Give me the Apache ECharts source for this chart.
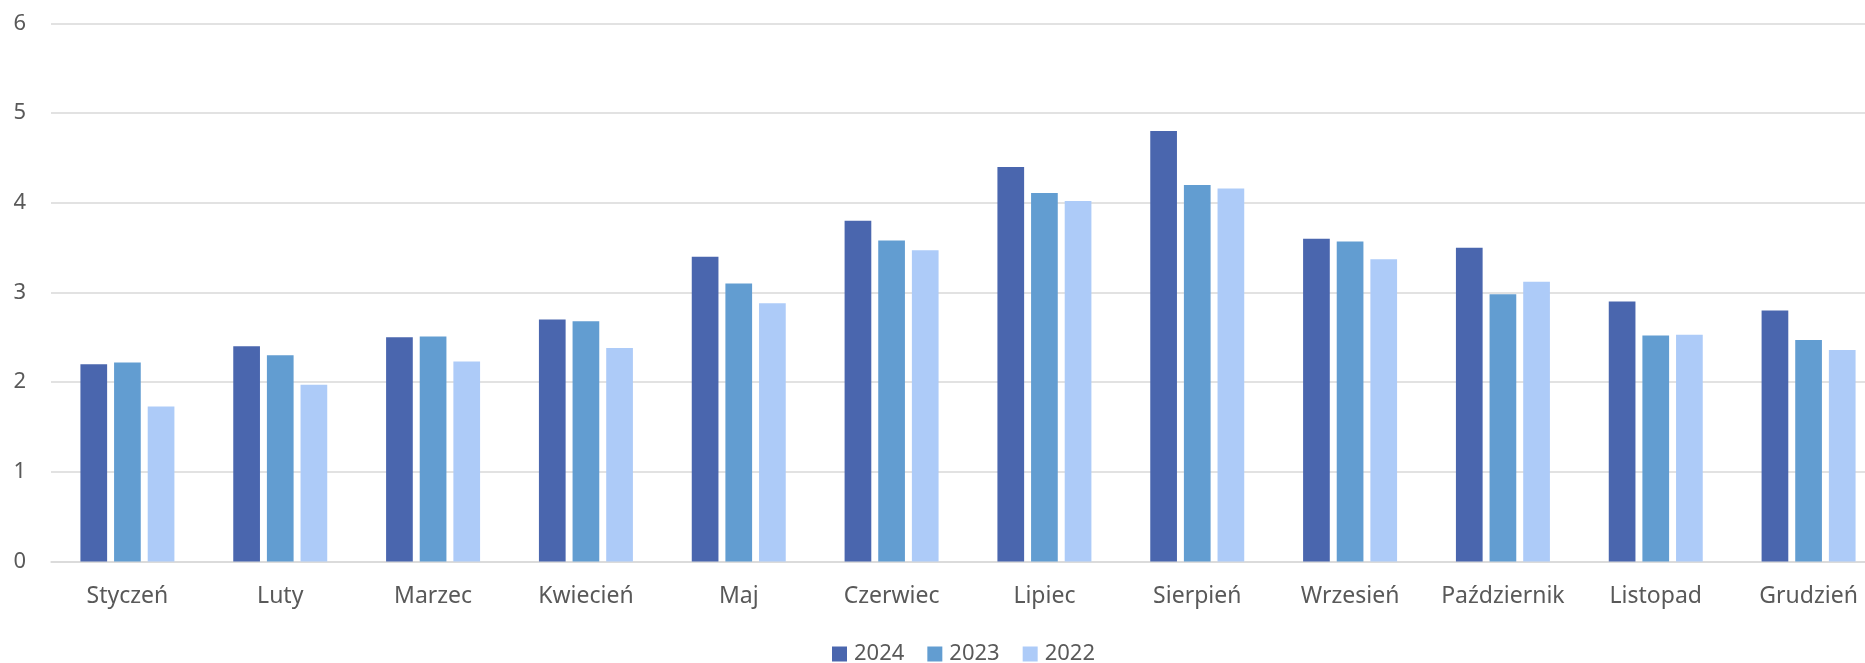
<!DOCTYPE html>
<html>
<head>
<meta charset="utf-8">
<script src="https://cdn.jsdelivr.net/npm/echarts@6/dist/echarts.min.js"></script>
<style>
html,body{margin:0;padding:0;background:#fff;overflow:hidden;width:1865px;height:663px;}
#chart{width:1885px;height:663px;}
</style>
</head>
<body>
<div id="chart"></div>
<script>
const categories = ['Styczeń','Luty','Marzec','Kwiecień','Maj','Czerwiec','Lipiec','Sierpień','Wrzesień','Październik','Listopad','Grudzień'];
const s2024 = [2.20, 2.40, 2.50, 2.70, 3.40, 3.80, 4.40, 4.80, 3.60, 3.50, 2.90, 2.80];
const s2023 = [2.22, 2.30, 2.51, 2.68, 3.10, 3.58, 4.11, 4.20, 3.57, 2.98, 2.52, 2.47];
const s2022 = [1.73, 1.97, 2.23, 2.38, 2.88, 3.47, 4.02, 4.16, 3.37, 3.12, 2.53, 2.36];
const seriesNames = ['2024','2023','2022'];
const yTicks = [0, 1, 2, 3, 4, 5, 6];

const colors = ['#4A66AE', '#629DD1', '#ADCBF8'];
const font = 'Noto Sans';
const chart = echarts.init(document.getElementById('chart'));
const mk = (name, data, i) => ({
  name: name, type: 'bar', data: data,
  barWidth: 26.7, barGap: '26%',
  itemStyle: {color: colors[i]},
  emphasis: {disabled: true}
});
chart.setOption({
  animation: false,
  textStyle: {fontFamily: font},
  grid: {left: 51, top: 23.5, right: 0, height: 538, containLabel: false},
  legend: {
    left: 827, top: 638,
    itemWidth: 15, itemHeight: 15, itemGap: 23,
    icon: 'rect',
    data: seriesNames,
    textStyle: {color: '#595959', fontSize: 22, fontFamily: font, lineHeight: 22, padding: [0,0,0,2]}
  },
  xAxis: {
    type: 'category', data: categories,
    axisTick: {show: false},
    axisLine: {lineStyle: {color: '#D9D9D9', width: 1.5}},
    axisLabel: {color: '#595959', fontSize: 23, fontFamily: font, margin: 23, interval: 0}
  },
  yAxis: {
    type: 'value', min: yTicks[0], max: yTicks[yTicks.length-1], interval: 1,
    axisLine: {show: false}, axisTick: {show: false},
    splitLine: {lineStyle: {color: '#D9D9D9', width: 1.5}},
    axisLabel: {color: '#595959', fontSize: 22, fontFamily: font, margin: 25}
  },
  series: [mk(seriesNames[0], s2024, 0), mk(seriesNames[1], s2023, 1), mk(seriesNames[2], s2022, 2)]
});
</script>
</body>
</html>
